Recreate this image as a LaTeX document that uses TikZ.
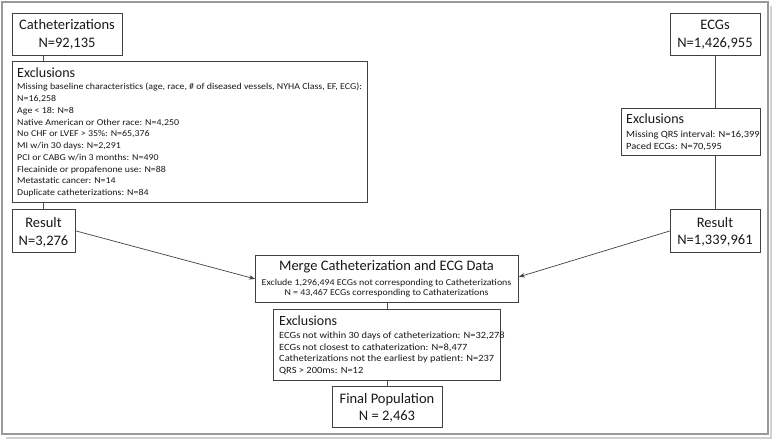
\documentclass[tikz,border=0pt]{standalone}
\usepackage{fontspec}
\setmainfont{Carlito}
\newfontfamily\midfont[FakeStretch=1.1]{Carlito}
\usetikzlibrary{arrows.meta,calc}
\tikzset{
  x=1pt, y=-1pt,
  box/.style={draw=black!75, line width=0.8pt, fill=white, inner sep=0pt, anchor=north west},
  big/.style={inner sep=0pt, anchor=base, text=black!90, font=\fontsize{14.5}{16}\selectfont},
  head/.style={inner sep=0pt, anchor=base west, text=black!90, font=\fontsize{14}{16}\selectfont},
  sml/.style={inner sep=0pt, anchor=base west, text=black!90, font=\midfont\fontsize{9}{11}\selectfont},
  smn/.style={inner sep=0pt, anchor=base west, text=black!90, font=\midfont\fontsize{9}{11}\selectfont},
  smr/.style={inner sep=0pt, anchor=base west, text=black!90, font=\midfont\fontsize{9.5}{11}\selectfont},
  smb/.style={inner sep=0pt, anchor=base west, text=black!90, font=\midfont\fontsize{9.5}{11}\selectfont},
  conn/.style={draw=black!70, line width=0.6pt},
  arr/.style={draw=black!75, line width=0.7pt, -{Stealth[length=6pt,width=4.5pt]}},
}
\begin{document}
\begin{tikzpicture}
\useasboundingbox (0,0) rectangle (777,441);
% outer frame with shadow
\draw[black!18, line width=2pt] (771,6) -- (771,437.5) -- (6,437.5);
\draw[black!40, line width=2pt] (2,2) rectangle (767.5,434);

% boxes
\node[box, minimum width=110, minimum height=42] (cath) at (12,13) {};
\node[box, minimum width=355, minimum height=141] (excL) at (12,61) {};
\node[box, minimum width=63, minimum height=43] (resL) at (12,209) {};
\node[box, minimum width=90, minimum height=42] (ecg) at (670,13) {};
\node[box, minimum width=139, minimum height=47] (excR) at (621,108) {};
\node[box, minimum width=90, minimum height=43] (resR) at (670,209) {};
\node[box, minimum width=263, minimum height=47] (merge) at (255,255) {};
\node[box, minimum width=227, minimum height=71] (excB) at (273,309) {};
\node[box, minimum width=110, minimum height=41] (final) at (332,386) {};

% connectors
\draw[conn] ([xshift=31pt]cath.south west) -- ([xshift=31pt]excL.north west);
\draw[conn] ([xshift=31pt]excL.south west) -- ([xshift=31pt]resL.north west);
\draw[conn] (ecg.south) -- (ecg.south |- excR.north);
\draw[conn] (ecg.south |- excR.south) -- (ecg.south |- resR.north);
\draw[conn] (merge.south) -- (merge.south |- excB.north);
\draw[conn] (merge.south |- excB.south) -- (merge.south |- final.north);
\draw[arr] (resL.east) -- (merge.west);
\draw[arr] (resR.west) -- ([yshift=2pt]merge.east);

% texts: catheterizations
\node[big] (cathA) at (67,30) {Catheterizations};
\node[big] (cathB) at (67,48) {N=92,135};
\node[head] (exlH) at (17,78) {Exclusions};
\foreach \t [count=\i from 0] in {%
  {Missing baseline characteristics (age, race, \# of diseased vessels, NYHA Class, EF, ECG):},
  {N=16,258},
  {Age < 18: N=8},
  {Native American or Other race: N=4,250},
  {No CHF or LVEF > 35\%: N=65,376},
  {MI w/in 30 days: N=2,291},
  {PCI or CABG w/in 3 months: N=490},
  {Flecainide or propafenone use: N=88},
  {Metastatic cancer: N=14},
  {Duplicate catheterizations: N=84}}
  \node[sml] (exl\i) at (17,{90+11.75*\i}) {\t};
\node[big] (resLA) at (43.5,227.5) {Result};
\node[big] (resLB) at (43.5,245) {N=3,276};

% ECG side
\node[big] (ecgA) at (715,30) {ECGs};
\node[big] (ecgB) at (715,48) {N=1,426,955};
\node[head] (exrH) at (626,123.5) {Exclusions};
\node[smr] (exr0) at (626,138) {Missing QRS interval: N=16,399};
\node[smr] (exr1) at (626,150) {Paced ECGs: N=70,595};
\node[big] (resRA) at (715,227) {Result};
\node[big] (resRB) at (715,244) {N=1,339,961};

% merge
\node[big] (mA) at (386.5,270.5) {Merge Catheterization and ECG Data};
\node[smn, anchor=base] (mB) at (386.5,285.5) {Exclude 1,296,494 ECGs not corresponding to Catheterizations};
\node[smn, anchor=base] (mC) at (386.5,295.5) {N = 43,467 ECGs corresponding to Cathaterizations};

% bottom exclusions
\node[head] (exbH) at (279,325.5) {Exclusions};
\node[smb] (exb0) at (279,338) {ECGs not within 30 days of catheterization: N=32,278};
\node[smb] (exb1) at (279,350) {ECGs not closest to cathaterization: N=8,477};
\node[smb] (exb2) at (279,361.5) {Catheterizations not the earliest by patient: N=237};
\node[smb] (exb3) at (279,373) {QRS > 200ms: N=12};

% final
\node[big] (finA) at (387,403) {Final Population};
\node[big] (finB) at (387,420) {N = 2,463};
\end{tikzpicture}
\end{document}
